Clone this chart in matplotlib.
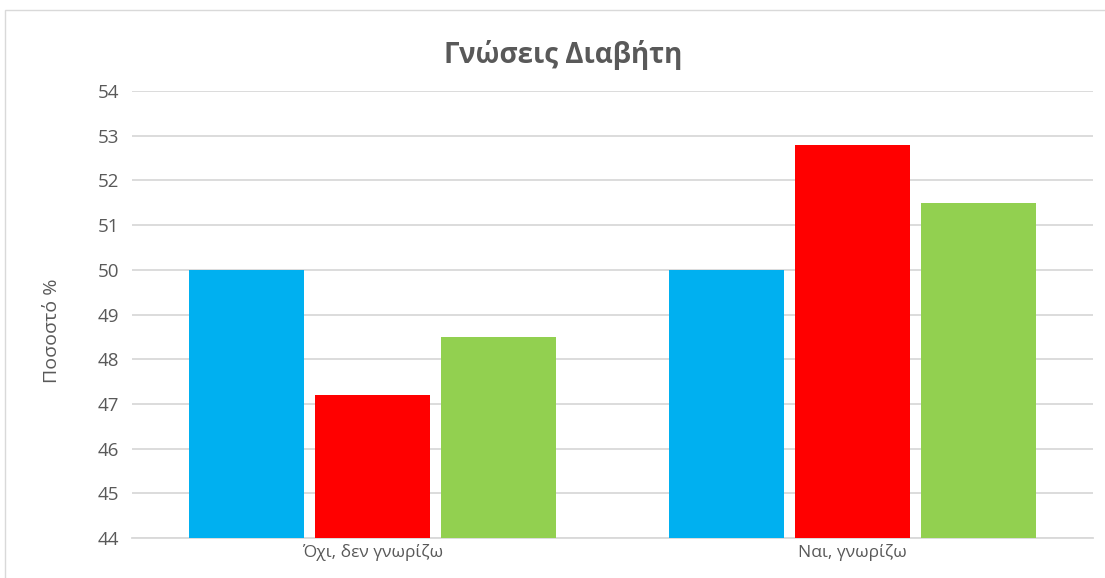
import matplotlib
matplotlib.use("Agg")
import matplotlib.pyplot as plt
import numpy as np

# Chart data
categories = ["Όχι, δεν γνωρίζω", "Ναι, γνωρίζω"]
series_blue = [50.0, 50.0]
series_red = [47.2, 52.8]
series_green = [48.5, 51.5]
y_ticks = [44, 45, 46, 47, 48, 49, 50, 51, 52, 53, 54]

colors = ["#00B0F0", "#FF0000", "#92D050"]
text_color = "#595959"
grid_color = "#D9D9D9"

plt.rcParams['font.family'] = ['Open Sans', 'DejaVu Sans']

W, H = 1105, 578
fig = plt.figure(figsize=(W / 100, H / 100), dpi=100)
ax = fig.add_axes([132 / W, 1 - 538 / H, (1093 - 132) / W, (538 - 91) / H])

x = np.arange(len(categories))
width = 0.239
step = 0.262
for i, (vals, c) in enumerate(zip([series_blue, series_red, series_green], colors)):
    ax.bar(x + (i - 1) * step, np.array(vals) - y_ticks[0], width=width,
           bottom=y_ticks[0], color=c, zorder=3)

ax.set_xlim(-0.5, len(categories) - 0.5)
ax.set_ylim(y_ticks[0], y_ticks[-1])
ax.set_yticks(y_ticks)
ax.set_xticks(x)
ax.set_xticklabels(categories, fontsize=12.5)
ax.yaxis.grid(True, color=grid_color, linewidth=1.3, zorder=0)
ax.set_axisbelow(True)
for s in ["top", "right", "left"]:
    ax.spines[s].set_visible(False)
ax.spines["bottom"].set_color(grid_color)
ax.spines["bottom"].set_linewidth(1.3)
ax.tick_params(axis="both", length=0, colors=text_color)
ax.tick_params(axis="y", pad=9, labelsize=13.5)
ax.tick_params(axis="x", pad=4)
ax.set_ylabel("Ποσοστό %", fontsize=14, color=text_color)
ax.yaxis.set_label_coords(-0.074, 0.463)

fig.text(563 / W, 1 - 55 / H, "Γνώσεις Διαβήτη", ha="center", va="center",
         fontsize=20, fontweight="bold", color=text_color)

# Light chart-area border (top and left edges inside the canvas)
fig.add_artist(plt.Rectangle((5 / W, -0.05), 1.1, 1 - 10 / H + 0.05,
                             transform=fig.transFigure, fill=False,
                             edgecolor="#D9D9D9", linewidth=1.0))

fig.savefig("out.png", dpi=100)
